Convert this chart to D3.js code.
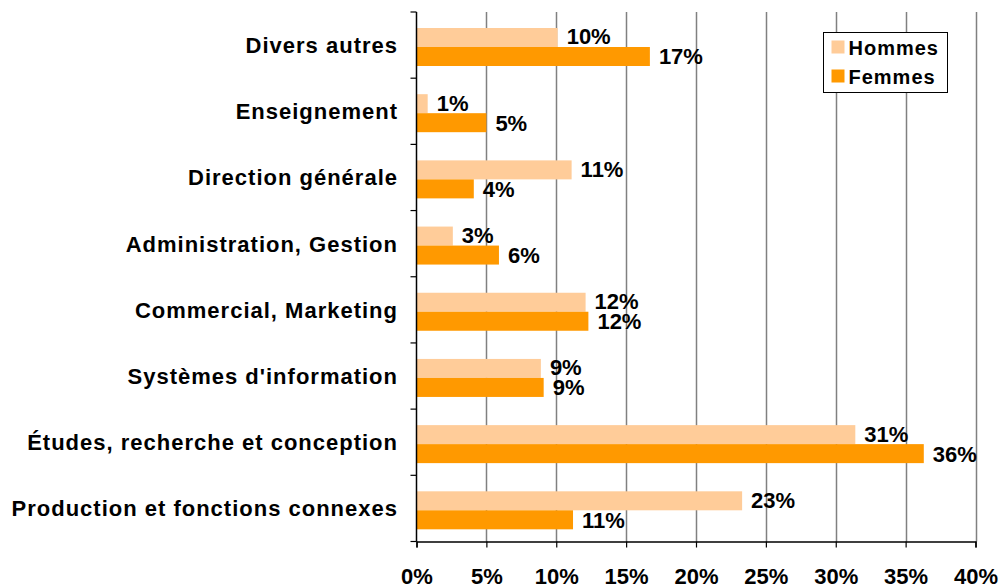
<!DOCTYPE html>
<html><head><meta charset="utf-8">
<script src="https://cdn.jsdelivr.net/npm/d3@7"></script>
<style>
body{margin:0;background:#fff;}
svg text{font-family:"Liberation Sans",Arial,sans-serif;font-weight:bold;fill:#000;}
</style></head>
<body><svg id="c" width="1004" height="586"></svg>
<script>
const categories = ["Divers autres","Enseignement","Direction générale","Administration, Gestion","Commercial, Marketing","Systèmes d'information","Études, recherche et conception","Production et fonctions connexes"];
const hommes = [10.1, 0.8, 11.1, 2.6, 12.1, 8.9, 31.4, 23.3];
const femmes = [16.7, 5.0, 4.1, 5.9, 12.3, 9.1, 36.3, 11.2];
const hommesLabels = ["10%","1%","11%","3%","12%","9%","31%","23%"];
const femmesLabels = ["17%","5%","4%","6%","12%","9%","36%","11%"];
const seriesNames = ["Hommes","Femmes"];
const colors = ["#FFCC99","#FF9900"];
const xTicks = [0,5,10,15,20,25,30,35,40];

const svg = d3.select("#c");
const L = 416.5, R = 975.5, T = 12, B = 541.5;
const x = d3.scaleLinear().domain([0,40]).range([L,R]);
const y = d3.scaleBand().domain(categories).range([T,B]).paddingInner(0).paddingOuter(0);
const sub = d3.scaleBand().domain(seriesNames).range([0,38]);

// gridlines
svg.append("g").selectAll("line").data(xTicks.slice(1)).join("line")
  .attr("x1",d=>Math.round(x(d))+0.5).attr("x2",d=>Math.round(x(d))+0.5)
  .attr("y1",T).attr("y2",B).attr("stroke","#808080").attr("stroke-width",1.5);

// bars
const data = [hommes, femmes];
const labels = [hommesLabels, femmesLabels];
seriesNames.forEach((s,si)=>{
  const g = svg.append("g");
  g.selectAll("rect").data(categories).join("rect")
    .attr("x",x(0)).attr("y",(c)=>y(c)+16+sub(s))
    .attr("width",(c,i)=>x(data[si][i])-x(0)).attr("height",sub.bandwidth())
    .attr("fill",colors[si]);
  g.selectAll("text").data(categories).join("text")
    .attr("x",(c,i)=>x(data[si][i])+9)
    .attr("y",(c)=>y(c)+16+sub(s)+sub.bandwidth()/2+ (si===0? -1:0))
    .attr("dy","0.36em").attr("font-size",22)
    .text((c,i)=>labels[si][i]);
});

// y axis
const ya = svg.append("g").attr("transform",`translate(${L},0)`);
ya.append("line").attr("x1",0).attr("x2",0).attr("y1",T).attr("y2",B).attr("stroke","#000").attr("stroke-width",1.5);
ya.selectAll("line.t").data(categories.concat(["_end"])).join("line").attr("class","t")
  .attr("x1",-6).attr("x2",0)
  .attr("y1",(c,i)=>i<categories.length? y(c):B).attr("y2",(c,i)=>i<categories.length? y(c):B)
  .attr("stroke","#000").attr("stroke-width",1.2);
svg.append("g").selectAll("text").data(categories).join("text")
  .attr("x",398).attr("y",c=>y(c)+y.bandwidth()/2).attr("dy","0.36em")
  .attr("text-anchor","end").attr("font-size",22).attr("letter-spacing","1px")
  .text(d=>d);

// x axis
const xa = svg.append("g").attr("transform",`translate(0,${B})`)
  .call(d3.axisBottom(x).tickValues(xTicks).tickSize(6).tickFormat(d=>d+"%"));
xa.select(".domain").attr("stroke","#000").attr("stroke-width",1.5);
xa.selectAll(".tick line").attr("stroke","#000").attr("stroke-width",1.2);
xa.selectAll(".tick text").attr("font-size",22).attr("font-family","Liberation Sans, Arial, sans-serif")
  .attr("font-weight","bold").attr("fill","#000").attr("y",35).attr("dy","0.36em");

// legend
const lg = svg.append("g").attr("transform","translate(823.5,32.5)");
lg.append("rect").attr("width",124).attr("height",60).attr("fill","#fff").attr("stroke","#000").attr("stroke-width",1);
seriesNames.forEach((s,i)=>{
  lg.append("rect").attr("x",8).attr("y",8+i*29).attr("width",13).attr("height",13).attr("fill",colors[i]);
  lg.append("text").attr("x",25).attr("y",15+i*29).attr("dy","0.36em").attr("font-size",20).attr("letter-spacing","1px").text(s);
});
</script></body></html>
